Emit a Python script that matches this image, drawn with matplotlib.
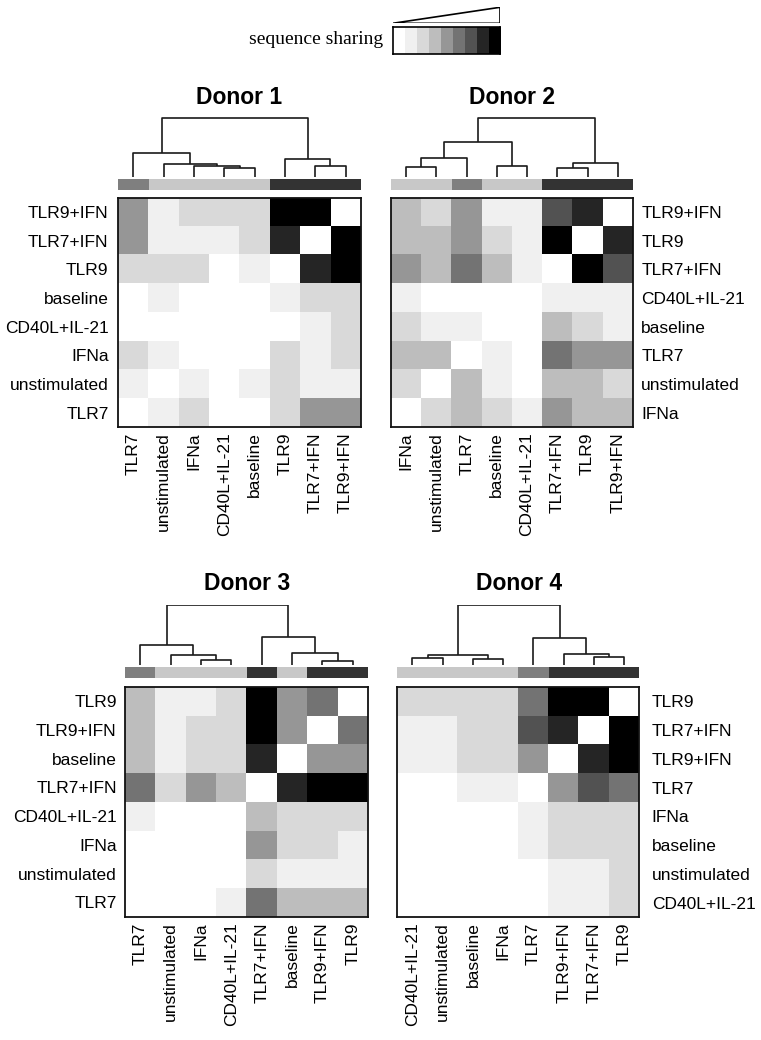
import matplotlib
matplotlib.use('Agg')
import matplotlib.pyplot as plt
from matplotlib.colors import ListedColormap
from matplotlib.patches import Polygon
import numpy as np

plt.rcParams['font.family'] = ['Liberation Sans', 'DejaVu Sans']

W, H = 761, 1040
fig = plt.figure(figsize=(W / 100, H / 100), dpi=100)

greys = ['#FFFFFF', '#F0F0F0', '#D9D9D9', '#BDBDBD', '#969696',
         '#737373', '#525252', '#252525', '#000000']
cmap = ListedColormap(greys)
group_colors = {'L': '#c8c8c8', 'M': '#7f7f7f', 'D': '#333333'}

# ---------------- data ----------------
d1_cols = ['TLR7', 'unstimulated', 'IFNa', 'CD40L+IL-21', 'baseline', 'TLR9', 'TLR7+IFN', 'TLR9+IFN']
d1_rows = ['TLR9+IFN', 'TLR7+IFN', 'TLR9', 'baseline', 'CD40L+IL-21', 'IFNa', 'unstimulated', 'TLR7']
d1_vals = [[4, 1, 2, 2, 2, 8, 8, 0],
           [4, 1, 1, 1, 2, 7, 0, 8],
           [2, 2, 2, 0, 1, 0, 7, 8],
           [0, 1, 0, 0, 0, 1, 2, 2],
           [0, 0, 0, 0, 0, 0, 1, 2],
           [2, 1, 0, 0, 0, 2, 1, 2],
           [1, 0, 1, 0, 1, 2, 1, 1],
           [0, 1, 2, 0, 0, 2, 4, 4]]
d1_groups = ['M', 'L', 'L', 'L', 'L', 'D', 'D', 'D']
d1_tree = [(3, 4, 9), (2, 8, 11), (1, 9, 12.7), (0, 10, 24),
           (6, 7, 11), (5, 12, 17.7), (11, 13, 59)]

d2_cols = ['IFNa', 'unstimulated', 'TLR7', 'baseline', 'CD40L+IL-21', 'TLR7+IFN', 'TLR9', 'TLR9+IFN']
d2_rows = ['TLR9+IFN', 'TLR9', 'TLR7+IFN', 'CD40L+IL-21', 'baseline', 'TLR7', 'unstimulated', 'IFNa']
d2_vals = [[3, 2, 4, 1, 1, 6, 7, 0],
           [3, 3, 4, 2, 1, 8, 0, 7],
           [4, 3, 5, 3, 1, 0, 8, 6],
           [1, 0, 0, 0, 0, 1, 1, 1],
           [2, 1, 1, 0, 0, 3, 2, 1],
           [3, 3, 0, 1, 0, 5, 4, 4],
           [2, 0, 3, 1, 0, 3, 3, 2],
           [0, 2, 3, 2, 1, 4, 3, 3]]
d2_groups = ['L', 'L', 'M', 'L', 'L', 'D', 'D', 'D']
d2_tree = [(0, 1, 10), (8, 2, 19), (3, 4, 11), (9, 10, 35),
           (5, 6, 9), (12, 7, 14), (11, 13, 59)]

d3_cols = ['TLR7', 'unstimulated', 'IFNa', 'CD40L+IL-21', 'TLR7+IFN', 'baseline', 'TLR9+IFN', 'TLR9']
d3_rows = ['TLR9', 'TLR9+IFN', 'baseline', 'TLR7+IFN', 'CD40L+IL-21', 'IFNa', 'unstimulated', 'TLR7']
d3_vals = [[3, 1, 1, 2, 8, 4, 5, 0],
           [3, 1, 2, 2, 8, 4, 0, 5],
           [3, 1, 2, 2, 7, 0, 4, 4],
           [5, 2, 4, 3, 0, 7, 8, 8],
           [1, 0, 0, 0, 3, 2, 2, 2],
           [0, 0, 0, 0, 4, 2, 2, 1],
           [0, 0, 0, 0, 2, 1, 1, 1],
           [0, 0, 0, 1, 5, 3, 3, 3]]
d3_groups = ['M', 'L', 'L', 'L', 'D', 'L', 'D', 'D']
d3_tree = [(2, 3, 4.7), (1, 8, 9.7), (0, 9, 20),
           (6, 7, 4.3), (5, 11, 11.7), (4, 12, 28.3), (10, 13, 60)]

d4_cols = ['CD40L+IL-21', 'unstimulated', 'baseline', 'IFNa', 'TLR7', 'TLR9+IFN', 'TLR7+IFN', 'TLR9']
d4_rows = ['TLR9', 'TLR7+IFN', 'TLR9+IFN', 'TLR7', 'IFNa', 'baseline', 'unstimulated', 'CD40L+IL-21']
d4_vals = [[2, 2, 2, 2, 5, 8, 8, 0],
           [1, 1, 2, 2, 6, 7, 0, 8],
           [1, 1, 2, 2, 4, 0, 7, 8],
           [0, 0, 1, 1, 0, 4, 6, 5],
           [0, 0, 0, 0, 1, 2, 2, 2],
           [0, 0, 0, 0, 1, 2, 2, 2],
           [0, 0, 0, 0, 0, 1, 1, 2],
           [0, 0, 0, 0, 0, 1, 1, 2]]
d4_groups = ['L', 'L', 'L', 'L', 'M', 'D', 'D', 'D']
d4_tree = [(0, 1, 7.3), (2, 3, 6), (8, 9, 10.3),
           (6, 7, 8), (5, 11, 11), (4, 12, 27), (10, 13, 60)]

titles = ['Donor 1', 'Donor 2', 'Donor 3', 'Donor 4']
legend_levels = list(range(9))


def px_axes(l, t, r, b):
    return fig.add_axes([l / W, 1 - b / H, (r - l) / W, (b - t) / H])


def draw_panel(cols, rows, vals, groups, tree, title, heat, strip, dendro,
               side, pad, title_xy):
    hl, ht, hr, hb = heat
    # heatmap
    ax = px_axes(hl, ht, hr, hb)
    ax.imshow(np.array(vals), cmap=cmap, vmin=-0.5, vmax=8.5,
              aspect='auto', interpolation='nearest')
    ax.set_xticks(range(len(cols)))
    ax.set_xticklabels(cols, rotation=90, fontsize=12.5)
    ax.set_yticks(range(len(rows)))
    ax.set_yticklabels(rows, fontsize=12.5)
    ax.tick_params(axis='x', length=0, pad=4)
    if side == 'right':
        ax.yaxis.tick_right()
    ax.tick_params(axis='y', length=0, pad=pad)
    for s in ax.spines.values():
        s.set_linewidth(1.3)
        s.set_color('#111111')
    # strip
    sax = px_axes(hl, strip[0], hr, strip[1])
    for i, g in enumerate(groups):
        sax.bar(i, 1, width=1.0, color=group_colors[g], edgecolor='none')
    sax.set_xlim(-0.5, len(groups) - 0.5)
    sax.set_ylim(0, 1)
    sax.axis('off')
    # dendrogram
    dax = px_axes(hl, dendro[0], hr, dendro[1])
    n = len(cols)
    xs = {i: i for i in range(n)}
    hs = {i: 0.0 for i in range(n)}
    for k, (a, b, h) in enumerate(tree):
        dax.plot([xs[a], xs[a], xs[b], xs[b]], [hs[a], h, h, hs[b]],
                 color='#1a1a1a', lw=1.2, solid_capstyle='butt')
        xs[n + k] = (xs[a] + xs[b]) / 2
        hs[n + k] = h
    dax.set_xlim(-0.5, n - 0.5)
    dax.set_ylim(0, 60)
    dax.axis('off')
    fig.text(title_xy[0] / W, 1 - title_xy[1] / H, title, fontsize=16.5,
             fontweight='bold', ha='center', va='center')


draw_panel(d1_cols, d1_rows, d1_vals, d1_groups, d1_tree, titles[0],
           (118.3, 197.7, 360.7, 427), (179, 190), (116.7, 176.7),
           'left', 7, (239.5, 97))
draw_panel(d2_cols, d2_rows, d2_vals, d2_groups, d2_tree, titles[1],
           (391, 197.7, 633, 427), (179, 190), (116.7, 176.7),
           'right', 6, (512, 97))
draw_panel(d3_cols, d3_rows, d3_vals, d3_groups, d3_tree, titles[2],
           (125, 686.7, 368, 916.7), (667.3, 678.3), (605, 665),
           'left', 6, (247, 583))
draw_panel(d4_cols, d4_rows, d4_vals, d4_groups, d4_tree, titles[3],
           (397.3, 687, 639.3, 917), (666.7, 678), (605.3, 665.3),
           'right', 9, (519, 583))

# legend
lax = px_axes(392.7, 26.7, 500, 54)
lax.imshow(np.array([legend_levels]), cmap=cmap, vmin=-0.5, vmax=8.5,
           aspect='auto', interpolation='nearest')
lax.set_xticks([])
lax.set_yticks([])
for s in lax.spines.values():
    s.set_linewidth(1.2)
tax = px_axes(392.7, 7.3, 500, 23.3)
tax.add_patch(Polygon([(0, 0), (1, 0), (1, 1)], closed=True, fill=False,
                      edgecolor='black', lw=1.2))
tax.set_xlim(0, 1)
tax.set_ylim(0, 1)
tax.axis('off')
fig.text(383 / W, 1 - 40 / H, 'sequence sharing', fontsize=14,
         family=['Liberation Serif', 'DejaVu Serif'], ha='right', va='center')

fig.savefig('out.png', dpi=100)
